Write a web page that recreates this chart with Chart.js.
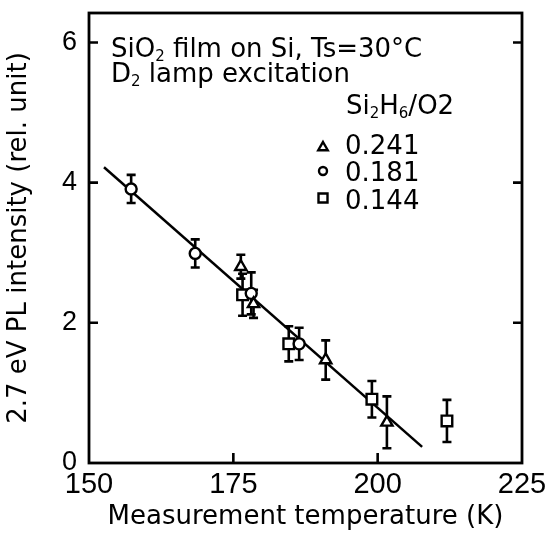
<!DOCTYPE html>
<html><head><meta charset="utf-8">
<script src="https://cdn.jsdelivr.net/npm/chart.js@4.4.1/dist/chart.umd.min.js"></script>
<style>html,body{margin:0;padding:0;background:#fff;} canvas{display:block;}</style>
</head><body>
<canvas id="c" width="550" height="533" style="width:550px;height:533px"></canvas>
<script>
// ---- data ----
const xTicks = [150, 175, 200, 225];
const yTicks = [0, 2, 4, 6];
const seriesNames = ['0.241', '0.181', '0.144'];
const triX = [176.3, 178.5, 191.0, 201.6];
const triY = [2.80, 2.27, 1.47, 0.58];
const triErr = [0.17, 0.20, 0.28, 0.37];
const cirX = [157.3, 168.4, 178.1, 186.4];
const cirY = [3.91, 2.99, 2.42, 1.70];
const cirErr = [0.20, 0.20, 0.30, 0.23];
const sqX = [176.6, 184.6, 199.0, 212.0];
const sqY = [2.40, 1.70, 0.91, 0.60];
const sqErr = [0.30, 0.25, 0.26, 0.30];
const fitX = [152.6, 207.7];
const fitY = [4.22, 0.23];

const pts = (xs, ys) => xs.map((x, i) => ({x: x, y: ys[i]}));

const bgPlugin = {
  id: 'bg',
  beforeDraw(chart) {
    const c = chart.ctx; c.save(); c.fillStyle = '#fff';
    c.fillRect(0, 0, chart.width, chart.height); c.restore();
  }
};

const errPlugin = {
  id: 'errbars',
  beforeDatasetsDraw(chart) {
    const c = chart.ctx, xs = chart.scales.x, ys = chart.scales.y;
    c.save(); c.strokeStyle = '#000'; c.lineWidth = 2.6; c.lineCap = 'butt';
    chart.data.datasets.forEach(ds => {
      if (!ds.errors) return;
      ds.data.forEach((p, i) => {
        const e = ds.errors[i];
        const px = xs.getPixelForValue(p.x);
        const t = ys.getPixelForValue(p.y + e), b = ys.getPixelForValue(p.y - e);
        c.beginPath();
        c.moveTo(px, t); c.lineTo(px, b);
        c.moveTo(px - 4.5, t); c.lineTo(px + 4.5, t);
        c.moveTo(px - 4.5, b); c.lineTo(px + 4.5, b);
        c.stroke();
      });
    });
    c.restore();
  }
};

const framePlugin = {
  id: 'frame',
  afterDraw(chart) {
    const c = chart.ctx, a = chart.chartArea, xs = chart.scales.x, ys = chart.scales.y;
    c.save(); c.strokeStyle = '#000'; c.lineWidth = 2.8;
    c.strokeRect(a.left, a.top, a.right - a.left, a.bottom - a.top);
    c.lineWidth = 2.6;
    c.beginPath();
    yTicks.forEach(v => {
      if (v === 0) return;
      const py = ys.getPixelForValue(v);
      c.moveTo(a.left, py); c.lineTo(a.left + 9, py);
      c.moveTo(a.right, py); c.lineTo(a.right - 9, py);
    });
    xTicks.forEach(v => {
      if (v === 150 || v === 225) return;
      const px = xs.getPixelForValue(v);
      c.moveTo(px, a.bottom); c.lineTo(px, a.bottom - 10);
    });
    c.stroke();
    c.restore();
  }
};

function drawRich(c, parts, x, y, size) {
  let cx = x;
  parts.forEach(p => {
    const sub = p[1];
    c.font = (sub ? Math.round(size * 0.58) : size) + 'px "DejaVu Sans"';
    c.fillText(p[0], cx, sub ? y + 4 : y);
    cx += c.measureText(p[0]).width;
  });
}

function legendMarker(c, style, x, y) {
  c.beginPath();
  if (style === 'triangle') {
    const r = 5.5;
    c.moveTo(x, y - r); c.lineTo(x + r * 0.866, y + r * 0.5); c.lineTo(x - r * 0.866, y + r * 0.5); c.closePath();
  } else if (style === 'circle') {
    c.arc(x, y, 4, 0, Math.PI * 2);
  } else {
    c.rect(x - 4.5, y - 4.5, 9, 9);
  }
  c.stroke();
}

const textPlugin = {
  id: 'texts',
  afterDraw(chart) {
    const c = chart.ctx;
    c.save(); c.fillStyle = '#000'; c.strokeStyle = '#000'; c.lineWidth = 2.4; c.textBaseline = 'alphabetic'; c.textAlign = 'left';
    drawRich(c, [['SiO', 0], ['2', 1], [' film on Si, Ts=30°C', 0]], 111, 57, 26);
    drawRich(c, [['D', 0], ['2', 1], [' lamp excitation', 0]], 111, 82, 26);
    drawRich(c, [['Si', 0], ['2', 1], ['H', 0], ['6', 1], ['/O2', 0]], 346, 114, 26);
    const styles = ['triangle', 'circle', 'rect'];
    const rows = [153.5, 181, 209];
    const mk = [147.5, 171, 198];
    seriesNames.forEach((n, i) => {
      legendMarker(c, styles[i], 323, mk[i]);
      c.font = '26px "DejaVu Sans"';
      c.fillText(n, 345, rows[i]);
    });
    c.restore();
  }
};

Chart.defaults.font.family = '"Liberation Sans", Arial, sans-serif';
Chart.defaults.color = '#000';

new Chart(document.getElementById('c').getContext('2d'), {
  type: 'scatter',
  data: {
    datasets: [
      {label: 'fit', type: 'line', data: pts(fitX, fitY), borderColor: '#000', borderWidth: 2.5,
       pointRadius: 0, fill: false, order: 10},
      {label: seriesNames[0], data: pts(triX, triY), errors: triErr, pointStyle: 'triangle', pointRadius: 6.5,
       backgroundColor: '#fff', borderColor: '#000', borderWidth: 2.4, order: 1},
      {label: seriesNames[1], data: pts(cirX, cirY), errors: cirErr, pointStyle: 'circle', pointRadius: 5.5,
       backgroundColor: '#fff', borderColor: '#000', borderWidth: 2.4, order: 1},
      {label: seriesNames[2], data: pts(sqX, sqY), errors: sqErr, pointStyle: 'rect', pointRadius: 7.5,
       backgroundColor: '#fff', borderColor: '#000', borderWidth: 2.4, order: 1}
    ]
  },
  options: {
    responsive: false, animation: false, devicePixelRatio: 1,
    layout: {padding: {top: 13, right: 28, bottom: 0, left: 0}},
    plugins: {legend: {display: false}, tooltip: {enabled: false}},
    scales: {
      x: {
        type: 'linear', min: 150, max: 225,
        afterBuildTicks: s => { s.ticks = xTicks.map(v => ({value: v})); },
        afterFit: s => { s.height = 70; s.paddingLeft = 0; s.paddingRight = 0; },
        grid: {display: false, drawTicks: false}, border: {display: false},
        ticks: {padding: 5, maxRotation: 0, font: {size: 29}, color: '#000'},
        title: {display: true, text: 'Measurement temperature (K)', color: '#000',
                font: {family: '"DejaVu Sans"', size: 26}, padding: {top: 0, bottom: 0}}
      },
      y: {
        type: 'linear', min: 0, max: 6.42,
        afterBuildTicks: s => { s.ticks = yTicks.map(v => ({value: v})); },
        afterFit: s => { s.width = 89; s.paddingTop = 0; s.paddingBottom = 0; },
        grid: {display: false, drawTicks: false}, border: {display: false},
        ticks: {padding: 12, font: {size: 27}, color: '#000'},
        title: {display: true, text: '2.7 eV PL intensity (rel. unit)', color: '#000',
                font: {family: '"DejaVu Sans"', size: 26}, padding: {top: 4, bottom: 0}}
      }
    }
  },
  plugins: [bgPlugin, errPlugin, framePlugin, textPlugin]
});
</script>
</body></html>
